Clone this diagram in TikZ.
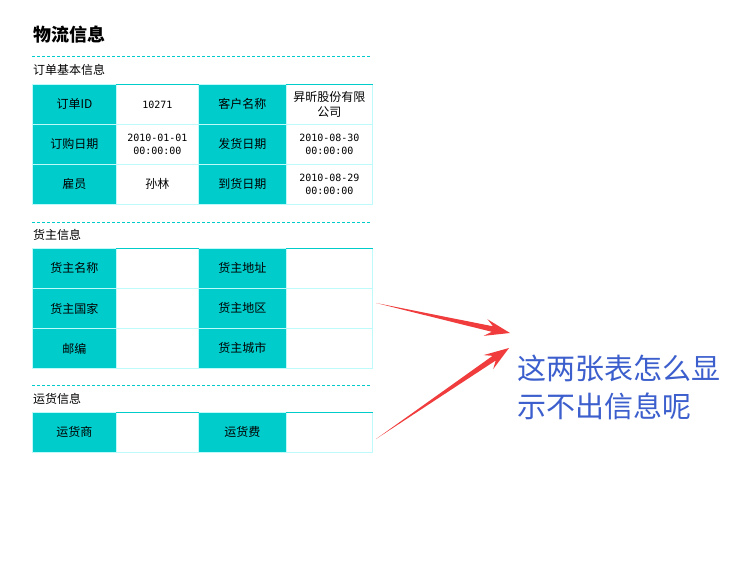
\documentclass[tikz,border=0pt]{standalone}
\usepackage{fontspec}
\setmainfont{Noto Sans CJK SC}
\newfontfamily\monof{DejaVu Sans Mono}
\usetikzlibrary{calc}
\definecolor{teal1}{RGB}{0,204,204}
\definecolor{bord}{RGB}{190,250,250}
\definecolor{redar}{RGB}{240,60,60}
\definecolor{bluet}{RGB}{60,95,205}
\tikzset{
  cellbase/.style={anchor=north west, inner sep=0pt, draw=bord, line width=0.8pt,
     minimum height=40pt, align=center, font=\fontsize{12}{14.5}\selectfont},
  hcell/.style={cellbase, fill=teal1},
  vcell/.style={cellbase, fill=white},
  wA/.style={minimum width=84pt},
  wB/.style={minimum width=82pt},
  wC/.style={minimum width=88pt},
  wD/.style={minimum width=86pt},
  sep/.style={draw=teal1, line width=0.9pt, dash pattern=on 3pt off 2pt},
  sect/.style={anchor=west, inner sep=0pt, font=\fontsize{12}{14}\selectfont},
  arrowshape/.style={fill=redar, draw=none},
  dt/.style={font=\monof\fontsize{10}{13.5}\selectfont},
}
\begin{document}
\begin{tikzpicture}[x=1pt,y=-1pt]
\useasboundingbox[fill=white] (0,0) rectangle (729,565);
% title
\node[anchor=west, inner sep=0pt, font=\bfseries\fontsize{18}{20}\selectfont] (title) at (33,35) {物流信息};
\draw[sep] (32,56) -- (371,56);
\node[sect] (s1) at (33,70) {订单基本信息};
% table 1
\node[hcell,wA] (a11) at (32,84) {订单ID};
\node[vcell,wB,dt] (a12) at (116,84) {10271};
\node[hcell,wC] (a13) at (198,84) {客户名称};
\node[vcell,wD] (a14) at (286,84) {昇昕股份有限\\公司};
\node[hcell,wA] (a21) at (32,124) {订购日期};
\node[vcell,wB,dt] (a22) at (116,124) {2010-01-01\\00:00:00};
\node[hcell,wC] (a23) at (198,124) {发货日期};
\node[vcell,wD,dt] (a24) at (286,124) {2010-08-30\\00:00:00};
\node[hcell,wA] (a31) at (32,164) {雇员};
\node[vcell,wB] (a32) at (116,164) {孙林};
\node[hcell,wC] (a33) at (198,164) {到货日期};
\node[vcell,wD,dt] (a34) at (286,164) {2010-08-29\\00:00:00};
\draw[teal1, line width=0.9pt] (a12.north west) -- (a12.north east) (a14.north west) -- (a14.north east);
% section 2
\draw[sep] (32,222) -- (371,222);
\node[sect] (s2) at (33,235) {货主信息};
\node[hcell,wA] (b11) at (32,248) {货主名称};
\node[vcell,wB] (b12) at (116,248) {};
\node[hcell,wC] (b13) at (198,248) {货主地址};
\node[vcell,wD] (b14) at (286,248) {};
\node[hcell,wA] (b21) at (32,288) {货主国家};
\node[vcell,wB] (b22) at (116,288) {};
\node[hcell,wC] (b23) at (198,288) {货主地区};
\node[vcell,wD] (b24) at (286,288) {};
\node[hcell,wA] (b31) at (32,328) {邮编};
\node[vcell,wB] (b32) at (116,328) {};
\node[hcell,wC] (b33) at (198,328) {货主城市};
\node[vcell,wD] (b34) at (286,328) {};
\draw[teal1, line width=0.9pt] (b12.north west) -- (b12.north east) (b14.north west) -- (b14.north east);
% section 3
\draw[sep] (32,385) -- (371,385);
\node[sect] (s3) at (33,399) {运货信息};
\node[hcell,wA] (c11) at (32,412) {运货商};
\node[vcell,wB] (c12) at (116,412) {};
\node[hcell,wC] (c13) at (198,412) {运货费};
\node[vcell,wD] (c14) at (286,412) {};
\draw[teal1, line width=0.9pt] (c12.north west) -- (c12.north east) (c14.north west) -- (c14.north east);
% note
\node[anchor=north west, inner sep=0pt, align=left, text=bluet, font=\fontsize{29}{38}\selectfont] (note) at (517,355) {这两张表怎么显\\示不出信息呢};
% arrows
\coordinate (S1) at (376,303);
\coordinate (T1) at (510,333);
\coordinate (S2) at (376,439);
\coordinate (T2) at (509,348);
\foreach \s/\t in {S1/T1,S2/T2}{
  \coordinate (B) at ($(\t)!25pt!(\s)$);
  \coordinate (N) at ($(\t)!18pt!(\s)$);
  \fill[arrowshape] (\s) -- ($(N)!2.8pt!90:(\t)$) -- ($(B)!8.5pt!90:(\t)$) -- (\t)
     -- ($(B)!8.5pt!-90:(\t)$) -- ($(N)!2.8pt!-90:(\t)$) -- cycle;
}
\end{tikzpicture}
\end{document}
